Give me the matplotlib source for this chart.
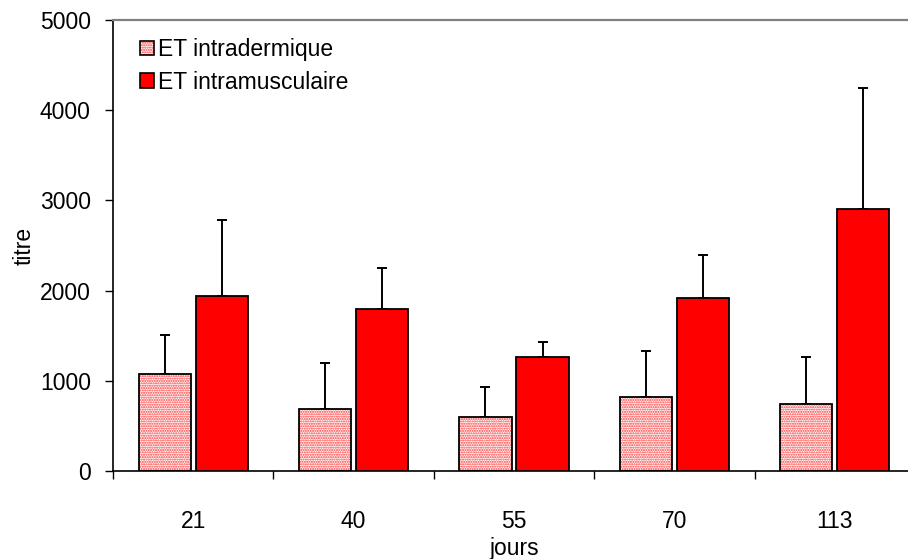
import matplotlib
matplotlib.use("Agg")
import matplotlib.pyplot as plt
import numpy as np
from matplotlib.patches import Patch

plt.rcParams['font.family'] = ['Liberation Sans', 'DejaVu Sans']
plt.rcParams['hatch.linewidth'] = 1.0

categories = ["21", "40", "55", "70", "113"]
intradermique = [1070, 690, 600, 820, 740]
intradermique_err = [440, 510, 335, 515, 520]
intramusculaire = [1940, 1800, 1265, 1920, 2900]
intramusculaire_err = [840, 455, 165, 480, 1350]
series_labels = ["ET intradermique", "ET intramusculaire"]
yticks = [0, 1000, 2000, 3000, 4000, 5000]

FS = 16.5

fig = plt.figure(figsize=(9.08, 5.59), dpi=100)
ax = fig.add_axes([113/908, 88/559, 802/908, 451/559])

x = np.arange(len(categories))
w = 0.325
off = 0.178

# intradermique: dotted pink texture
ax.bar(x - off, intradermique, w, color='white', edgecolor='#ff3030', hatch='.......', linewidth=0, zorder=2)
ax.bar(x - off, intradermique, w, color='none', edgecolor='black', linewidth=1.3, zorder=3)
ax.errorbar(x - off, intradermique, yerr=[np.zeros(len(x)), intradermique_err], fmt='none',
            ecolor='black', elinewidth=1.4, capsize=3.5, capthick=1.4, zorder=1)

ax.bar(x + off, intramusculaire, w, color='#ff0000', edgecolor='black', linewidth=1.3, zorder=3)
ax.errorbar(x + off, intramusculaire, yerr=[np.zeros(len(x)), intramusculaire_err], fmt='none',
            ecolor='black', elinewidth=1.4, capsize=3.5, capthick=1.4, zorder=1)

ax.set_xlim(-0.5, len(categories) - 0.5)
ax.set_ylim(0, 5000)
ax.set_yticks(yticks)
ax.set_yticklabels([str(v) for v in yticks])
ax.set_xticks(x)
ax.set_xticklabels(categories)
ax.set_xticks(np.arange(-0.5, len(categories)), minor=True)
ax.tick_params(axis='x', which='major', length=0, pad=28, labelsize=FS)
ax.tick_params(axis='x', which='minor', length=6, width=1, direction='out')
ax.tick_params(axis='y', length=6, width=1, direction='out', pad=10, labelsize=FS)

ax.spines['right'].set_visible(False)
ax.spines['top'].set_color('#808080')
ax.spines['top'].set_linewidth(1.6)
ax.spines['left'].set_linewidth(1.2)
ax.spines['bottom'].set_linewidth(1.2)

ax.set_xlabel("jours", fontsize=FS, labelpad=3)
ax.set_ylabel("titre", fontsize=FS, labelpad=3)

h1 = (Patch(facecolor='white', edgecolor='#ff3030', hatch='.......', linewidth=0),
      Patch(facecolor='none', edgecolor='black', linewidth=1.2))
h2 = Patch(facecolor='#ff0000', edgecolor='black', linewidth=1.2)
leg = ax.legend([h1, h2], series_labels, loc='upper left', bbox_to_anchor=(0.022, 0.98),
                frameon=False, fontsize=FS, handlelength=0.6, handleheight=0.6,
                handletextpad=0.2, labelspacing=0.42, borderaxespad=0)

fig.savefig("out.png", dpi=100)
